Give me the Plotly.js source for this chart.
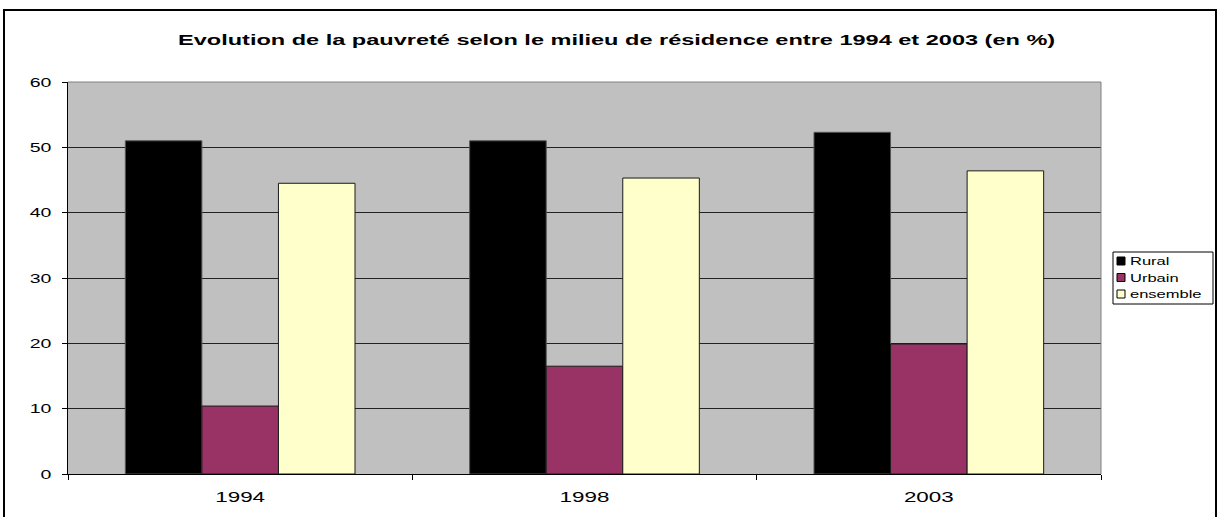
<!DOCTYPE html>
<html>
<head>
<meta charset="utf-8">
<script src="https://cdn.plot.ly/plotly-3.0.1.min.js"></script>
<style>
html,body{margin:0;padding:0;background:#fff;overflow:hidden;}
#frame{position:absolute;left:3px;top:9px;width:1214px;height:520px;border:2px solid #000;box-sizing:border-box;pointer-events:none;z-index:5;}
#chart{position:absolute;left:0;top:0;width:1221px;height:517px;}
</style>
</head>
<body>
<div id="chart"></div>
<div id="frame"></div>
<script>
const years = ['1994', '1998', '2003'];
const rural = [51.0, 51.0, 52.3];
const urbain = [10.4, 16.5, 19.9];
const ensemble = [44.5, 45.3, 46.4];
const seriesNames = ['Rural', 'Urbain', 'ensemble'];
const colors = ['#000000', '#993366', '#FFFFCC'];
const titleText = 'Evolution de la pauvreté selon le milieu de résidence entre 1994 et 2003 (en %)';

const vals = [rural, urbain, ensemble];
const traces = vals.map((v, i) => ({
  type: 'bar',
  name: seriesNames[i],
  x: years,
  y: v,
  marker: {color: colors[i], line: {color: i === 0 ? '#555555' : '#1a1a1a', width: 1}},
  showlegend: false
}));

// Plot area in pixels: x 68..1101, y 82..474
const PX0 = 68, PX1 = 1101, PY0 = 82, PY1 = 474;
const px = x => (x - PX0) / (PX1 - PX0);
const py = y => (PY1 - y) / (PY1 - PY0);

const shapes = [
  {type: 'line', xref: 'paper', yref: 'paper', x0: 1, x1: 1, y0: 0, y1: 1, line: {color: '#808080', width: 1}},
  {type: 'line', xref: 'paper', yref: 'paper', x0: 0, x1: 1, y0: 1, y1: 1, line: {color: '#808080', width: 1}},
  // legend box
  {type: 'rect', xref: 'paper', yref: 'paper', x0: px(1113), x1: px(1213), y0: py(304), y1: py(252),
   fillcolor: '#ffffff', line: {color: '#000', width: 1}, layer: 'above'}
];
const annotations = [];
const rowY = [261, 277.5, 294];
seriesNames.forEach((n, i) => {
  shapes.push({type: 'rect', xref: 'paper', yref: 'paper',
    x0: px(1117), x1: px(1125), y0: py(rowY[i] + 4), y1: py(rowY[i] - 4),
    fillcolor: colors[i], line: {color: '#000', width: 1}, layer: 'above'});
  annotations.push({xref: 'paper', yref: 'paper', x: px(1128), y: py(rowY[i]),
    xanchor: 'left', yanchor: 'middle', align: 'left', showarrow: false,
    text: n, font: {size: 11, color: '#000'}});
});

const layout = {
  width: 1221,
  height: 517,
  margin: {l: PX0, r: 1221 - PX1, t: PY0, b: 517 - PY1},
  paper_bgcolor: '#ffffff',
  plot_bgcolor: '#c0c0c0',
  font: {family: 'Liberation Sans, Arial, sans-serif', color: '#000', size: 13},
  title: {
    text: titleText,
    font: {size: 14, weight: 700, family: 'Liberation Sans, Arial, sans-serif', color: '#000'},
    x: 0.505, xanchor: 'center', y: 0.923, yanchor: 'middle'
  },
  barmode: 'group',
  bargap: 0.333,
  bargroupgap: 0,
  xaxis: {
    type: 'category',
    showline: true, linecolor: '#000', linewidth: 1,
    ticks: 'outside', tickson: 'boundaries', ticklen: 5, tickcolor: '#000',
    showgrid: false,
    tickfont: {size: 14},
    ticklabelstandoff: 10
  },
  yaxis: {
    range: [0, 60],
    dtick: 10,
    showline: true, linecolor: '#000', linewidth: 1,
    ticks: 'outside', ticklen: 5, tickcolor: '#000',
    showgrid: true, gridcolor: '#222222', gridwidth: 1,
    zeroline: false,
    tickfont: {size: 13},
    ticklabelstandoff: 8
  },
  shapes: shapes,
  annotations: annotations,
  showlegend: false
};

function stretchOf(t) {
  if (t.closest('.gtitle') || t.classList.contains('gtitle')) return 1.68;
  if (t.closest('.xtick')) return 1.6;
  return 1.5;
}
Plotly.newPlot('chart', traces, layout, {displayModeBar: false, staticPlot: true}).then(gd => {
  gd.querySelectorAll('.main-svg text').forEach(t => {
    if (!t.textContent.trim()) return;
    const w = t.getComputedTextLength();
    t.setAttribute('textLength', (w * stretchOf(t)).toFixed(2));
    t.setAttribute('lengthAdjust', 'spacingAndGlyphs');
  });
});
</script>
</body>
</html>
